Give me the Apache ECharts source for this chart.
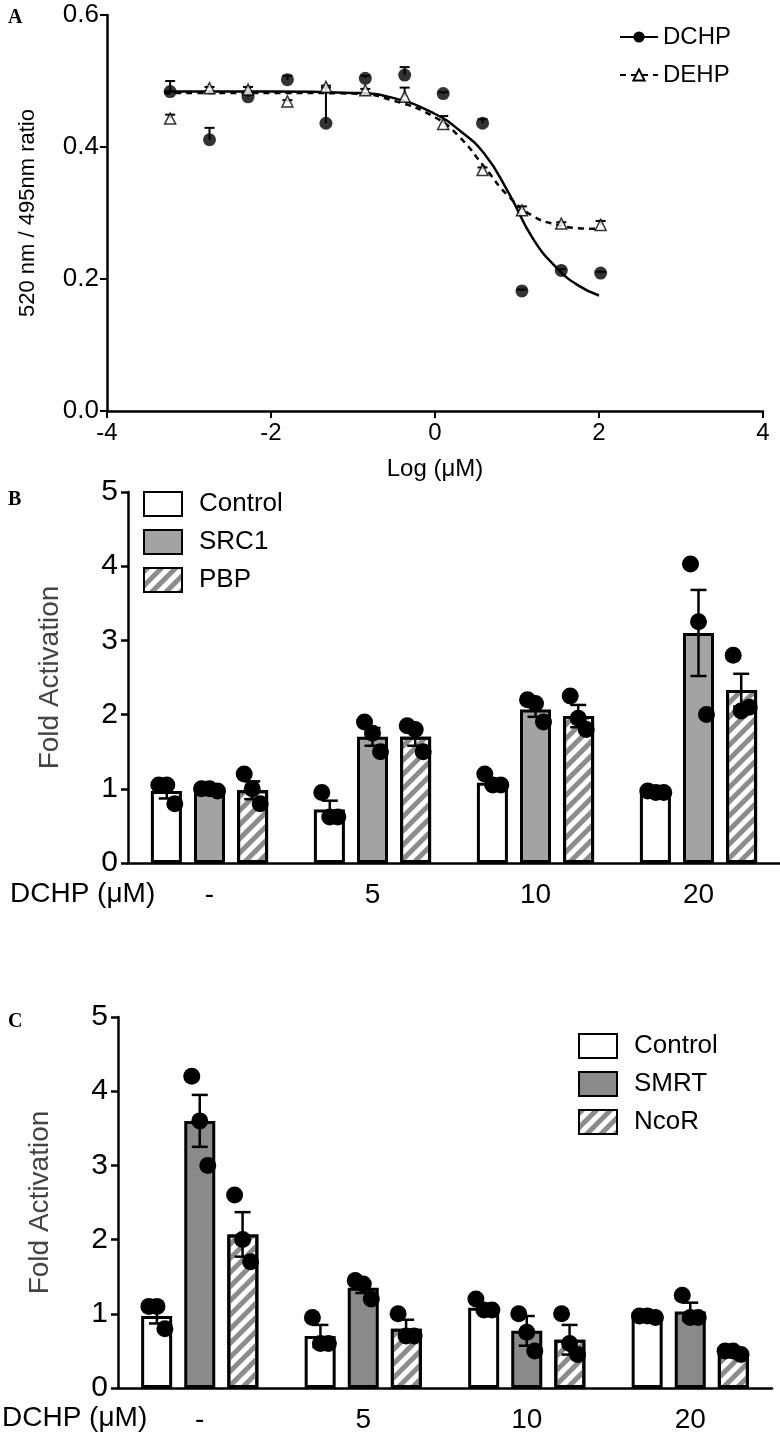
<!DOCTYPE html>
<html><head><meta charset="utf-8">
<script src="https://cdn.jsdelivr.net/npm/echarts@6/dist/echarts.min.js"></script>
<style>html,body{margin:0;padding:0;background:#fff}#c{width:780px;height:1444px}</style>
</head><body><div id="c"></div>
<script>
// Panel A data
const aX = [-3.23,-2.75,-2.28,-1.80,-1.33,-0.85,-0.37,0.10,0.58,1.06,1.54,2.02];
const dchpY = [0.484,0.411,0.476,0.502,0.436,0.504,0.509,0.481,0.436,0.182,0.213,0.209];
const dchpErr = [0.016,0.018,0.004,0.006,0.054,0.004,0.012,0.002,0.006,0.002,0.002,0.002];
const dehpY = [0.443,0.489,0.487,0.469,0.491,0.486,0.476,0.435,0.365,0.304,0.284,0.282];
const dehpErr = [0.006,0.002,0.004,0.002,0.002,0.002,0.014,0.012,0.004,0.006,0.002,0.006];
const fitX = [-3.3,-2,-1,-0.5,0,0.3,0.6,0.9,1.2,1.5,1.75,2];
const dchpFit = [0.484,0.484,0.482,0.474,0.45,0.425,0.39,0.33,0.26,0.215,0.19,0.175];
const dehpFit = [0.482,0.482,0.481,0.47,0.445,0.415,0.37,0.325,0.295,0.282,0.277,0.276];
// Panel B / C
const doseCats = ['-','5','10','20'];
const bControl = [0.97,0.72,1.08,0.95], bControlErr=[0.1,0.12,0.05,0.01];
const bControlPts = [[1.05,1.05,0.8],[0.95,0.62,0.62],[1.2,1.05,1.05],[0.97,0.95,0.95]];
const bSRC1 = [0.98,1.7,2.07,3.1], bSRC1Err=[0.01,0.12,0.1,0.58];
const bSRC1Pts = [[1.0,1.0,0.97],[1.9,1.75,1.5],[2.2,2.15,1.9],[4.03,3.25,2.0]];
const bPBP = [0.98,1.7,1.98,2.33], bPBPErr=[0.12,0.12,0.15,0.22];
const bPBPPts = [[1.2,1.0,0.8],[1.85,1.8,1.5],[2.25,1.95,1.8],[2.8,2.05,2.1]];
const cControl = [0.97,0.7,1.08,0.95], cControlErr=[0.1,0.15,0.05,0.01];
const cControlPts = [[1.1,1.1,0.8],[0.95,0.6,0.6],[1.2,1.05,1.05],[0.97,0.97,0.95]];
const cSMRT = [3.6,1.35,0.77,1.03], cSMRTErr=[0.35,0.07,0.2,0.12];
const cSMRTPts = [[4.2,3.6,3.0],[1.45,1.4,1.2],[1.0,0.75,0.5],[1.25,0.95,0.95]];
const cNcoR = [2.07,0.8,0.65,0.47], cNcoRErr=[0.3,0.12,0.2,0.05];
const cNcoRPts = [[2.6,2.0,1.7],[1.0,0.7,0.7],[1.0,0.6,0.45],[0.5,0.5,0.45]];

const FONT = 'Liberation Sans, Arial, sans-serif';
const hatch = {symbol:'rect', dashArrayX:[1,0], dashArrayY:[5,5], rotation:-Math.PI/4, color:'#8c8c8c', symbolSize:1};

function errA(x,y,e){return x.map((v,i)=>[v,y[i],e[i]]);}
function errARender(params, api){
  const x=api.value(0), y=api.value(1), e=api.value(2);
  const p0=api.coord([x,y]), p1=api.coord([x,y+e]);
  const st={stroke:'#000',lineWidth:2};
  return {type:'group',children:[
    {type:'line',shape:{x1:p0[0],y1:p0[1],x2:p1[0],y2:p1[1]},style:st},
    {type:'line',shape:{x1:p1[0]-5,y1:p1[1],x2:p1[0]+5,y2:p1[1]},style:st}]};
}
function dotData(m,e,pts){return m.map((v,i)=>[i,v,e[i],pts[i][0],pts[i][1],pts[i][2]]);}
function dotRender(off){
  return function(params, api){
    const i=api.value(0), m=api.value(1), e=api.value(2);
    const bw=api.size([1,0])[0];
    const cx=api.coord([i,m])[0]+off*bw;
    const top=api.coord([i,m+e])[1], bot=api.coord([i,m-e])[1];
    const st={stroke:'#000',lineWidth:2.5};
    const ch=[
      {type:'line',shape:{x1:cx,y1:top,x2:cx,y2:bot},style:st,z2:5},
      {type:'line',shape:{x1:cx-8,y1:top,x2:cx+8,y2:top},style:st,z2:5},
      {type:'line',shape:{x1:cx-8,y1:bot,x2:cx+8,y2:bot},style:st,z2:5}];
    const jit=[-8,0,8];
    for(let k=0;k<3;k++){
      const p=api.coord([i,api.value(3+k)]);
      ch.push({type:'circle',shape:{cx:cx+jit[k],cy:p[1],r:8.5},style:{fill:'#000'},z2:6});
    }
    return {type:'group',children:ch};
  };
}
function barSeries(name,data,color,decal,xi,yi){
  return {type:'bar',name,data,xAxisIndex:xi,yAxisIndex:yi,barWidth:31,barGap:'39%',
    itemStyle:{color,borderColor:'#000',borderWidth:3,decal},z:2};
}
function dotSeries(m,e,pts,off,xi,yi){
  return {type:'custom',xAxisIndex:xi,yAxisIndex:yi,data:dotData(m,e,pts),renderItem:dotRender(off),z:5};
}
const catAxisLabel={fontSize:28,color:'#000',fontFamily:FONT,margin:18};
const axLine={onZero:false,lineStyle:{color:'#000',width:2.5}};
const yAxisCommon=(top)=>({type:'value',min:0,max:5,interval:1,gridIndex:top,
  axisLine:{show:true,...axLine},axisTick:{show:true,length:7,lineStyle:{color:'#000',width:2.5}},splitLine:{show:false},
  axisLabel:{fontSize:30,color:'#000',fontFamily:FONT,margin:10},
  name:'Fold Activation',nameLocation:'middle',nameGap:64,nameTextStyle:{fontSize:28,color:'#444',fontFamily:FONT}});

const chart=echarts.init(document.getElementById('c'),null,{renderer:'canvas'});
chart.setOption({
  animation:false,
  grid:[
    {left:107,top:15,width:656,height:396},
    {left:128,top:492,width:652,height:371},
    {left:118,top:1017,width:654,height:371}],
  xAxis:[
    {type:'value',gridIndex:0,min:-4,max:4,interval:2,axisLine:axLine,axisTick:{length:7,lineStyle:{color:'#000',width:2}},
     splitLine:{show:false},axisLabel:{fontSize:24,color:'#000',fontFamily:FONT,margin:10},
     name:'Log (μM)',nameLocation:'middle',nameGap:46,nameTextStyle:{fontSize:24,color:'#000',fontFamily:FONT}},
    {type:'category',gridIndex:1,data:doseCats,axisLine:axLine,axisTick:{alignWithLabel:true,length:8,lineStyle:{color:'#000',width:2.5}},axisLabel:catAxisLabel},
    {type:'category',gridIndex:2,data:doseCats,axisLine:axLine,axisTick:{alignWithLabel:true,length:8,lineStyle:{color:'#000',width:2.5}},axisLabel:catAxisLabel}],
  yAxis:[
    {type:'value',gridIndex:0,min:0,max:0.6,interval:0.2,axisLine:{show:true,...axLine},axisTick:{show:true,length:7,lineStyle:{color:'#000',width:2}},
     splitLine:{show:false},axisLabel:{fontSize:26,color:'#000',fontFamily:FONT,formatter:v=>v.toFixed(1)},
     name:'520 nm / 495nm ratio',nameLocation:'middle',nameGap:68,nameTextStyle:{fontSize:22,color:'#000',fontFamily:FONT}},
    yAxisCommon(1), yAxisCommon(2)],
  legend:[
    {data:['DCHP','DEHP'],right:44,top:20,orient:'vertical',itemGap:14,itemWidth:38,itemHeight:14,
     textStyle:{fontSize:24,color:'#000',fontFamily:FONT}},
    {data:['Control','SRC1','PBP'],left:138,top:486,orient:'vertical',itemGap:12,itemWidth:38,itemHeight:24,icon:'rect',
     textStyle:{fontSize:26,color:'#000',fontFamily:FONT,padding:[0,0,0,12]}},
    {data:['Control','SMRT','NcoR'],left:573,top:1028,orient:'vertical',itemGap:12,itemWidth:38,itemHeight:24,icon:'rect',
     textStyle:{fontSize:26,color:'#000',fontFamily:FONT,padding:[0,0,0,12]}}],
  series:[
    {type:'line',name:'DCHP',xAxisIndex:0,yAxisIndex:0,smooth:true,showSymbol:false,symbol:'circle',symbolSize:12,
     data:fitX.map((x,i)=>[x,dchpFit[i]]),lineStyle:{color:'#000',width:2.5},itemStyle:{color:'#000'}},
    {type:'line',name:'DEHP',xAxisIndex:0,yAxisIndex:0,smooth:true,showSymbol:false,symbol:'triangle',symbolSize:11,
     data:fitX.map((x,i)=>[x,dehpFit[i]]),lineStyle:{color:'#000',width:2.5,type:[6,5]},itemStyle:{color:'#fff',borderColor:'#000',borderWidth:1.5}},
    {type:'custom',xAxisIndex:0,yAxisIndex:0,data:errA(aX,dchpY,dchpErr),renderItem:errARender,z:3},
    {type:'custom',xAxisIndex:0,yAxisIndex:0,data:errA(aX,dehpY,dehpErr),renderItem:errARender,z:3},
    {type:'scatter',xAxisIndex:0,yAxisIndex:0,symbol:'circle',symbolSize:13,data:aX.map((x,i)=>[x,dchpY[i]]),itemStyle:{color:'#000'},z:4},
    {type:'scatter',xAxisIndex:0,yAxisIndex:0,symbol:'triangle',symbolSize:11,data:aX.map((x,i)=>[x,dehpY[i]]),itemStyle:{color:'#fff',borderColor:'#000',borderWidth:1.5},z:4},
    barSeries('Control',bControl,'#fff',undefined,1,1),
    barSeries('SRC1',bSRC1,'#a3a3a3',undefined,1,1),
    barSeries('PBP',bPBP,'#fff',hatch,1,1),
    dotSeries(bControl,bControlErr,bControlPts,-0.262,1,1),
    dotSeries(bSRC1,bSRC1Err,bSRC1Pts,0,1,1),
    dotSeries(bPBP,bPBPErr,bPBPPts,0.262,1,1),
    barSeries('Control',cControl,'#fff',undefined,2,2),
    barSeries('SMRT',cSMRT,'#8a8a8a',undefined,2,2),
    barSeries('NcoR',cNcoR,'#fff',hatch,2,2),
    dotSeries(cControl,cControlErr,cControlPts,-0.262,2,2),
    dotSeries(cSMRT,cSMRTErr,cSMRTPts,0,2,2),
    dotSeries(cNcoR,cNcoRErr,cNcoRPts,0.262,2,2)],
  graphic:[
    {type:'text',left:8,top:8,style:{text:'A',font:'bold 20px Liberation Serif, serif',fill:'#000'}},
    {type:'text',left:8,top:490,style:{text:'B',font:'bold 20px Liberation Serif, serif',fill:'#000'}},
    {type:'text',left:8,top:1012,style:{text:'C',font:'bold 20px Liberation Serif, serif',fill:'#000'}},
    {type:'text',left:10,top:880,style:{text:'DCHP (μM)',font:'28px Liberation Sans, Arial, sans-serif',fill:'#000'}},
    {type:'text',left:2,top:1404,style:{text:'DCHP (μM)',font:'28px Liberation Sans, Arial, sans-serif',fill:'#000'}}]
});
</script></body></html>
